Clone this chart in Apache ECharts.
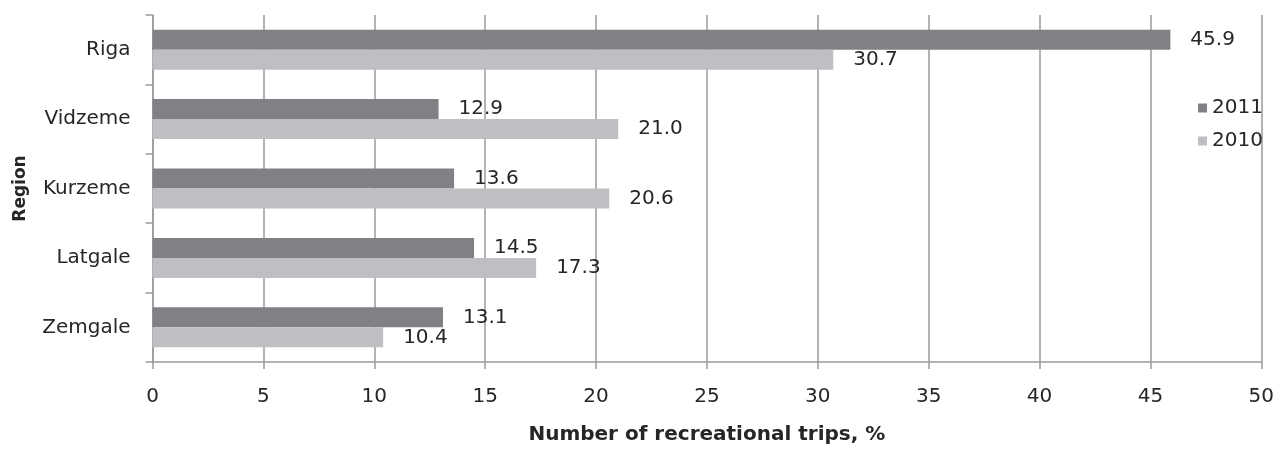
<!DOCTYPE html>
<html>
<head>
<meta charset="utf-8">
<script src="https://cdn.jsdelivr.net/npm/echarts@6/dist/echarts.min.js"></script>
<style>
  html, body { margin: 0; padding: 0; background: #fff; }
  #chart { width: 1277px; height: 450px; }
</style>
</head>
<body>
<div id="chart"></div>
<script>
// Share of recreational trips by region, 2011 vs 2010
const regions = ['Riga', 'Vidzeme', 'Kurzeme', 'Latgale', 'Zemgale'];
const trips2011 = [45.9, 12.9, 13.6, 14.5, 13.1];
const trips2010 = [30.7, 21.0, 20.6, 17.3, 10.4];
const seriesNames = ['2011', '2010'];

const FONT = 'DejaVu Sans';
const gridColor = '#9a9a9a';
const textColor = '#262626';

const valueLabel = {
  show: true,
  position: 'right',
  distance: 20,
  color: textColor,
  fontFamily: FONT,
  fontSize: 20,
  formatter: p => p.value.toFixed(1)
};

const chart = echarts.init(document.getElementById('chart'), null, { renderer: 'canvas' });
chart.setOption({
  animation: false,
  backgroundColor: '#ffffff',
  textStyle: { fontFamily: FONT },
  grid: { left: 152.5, right: 14, top: 15, bottom: 86, containLabel: false },
  legend: {
    orient: 'vertical',
    left: 1193,
    top: 93,
    itemWidth: 9,
    itemHeight: 9,
    itemGap: 13,
    icon: 'rect',
    textStyle: { fontFamily: FONT, fontSize: 20, color: textColor },
    data: seriesNames
  },
  xAxis: {
    type: 'value',
    min: 0,
    max: 50,
    interval: 5,
    name: 'Number of recreational trips, %',
    nameLocation: 'middle',
    nameGap: 63,
    nameTextStyle: { fontFamily: FONT, fontSize: 20, fontWeight: 'bold', color: textColor },
    axisLine: { show: true, lineStyle: { color: gridColor, width: 1.5 } },
    axisTick: { show: true, length: 7, lineStyle: { color: gridColor, width: 1.5 } },
    axisLabel: { margin: 25, fontFamily: FONT, fontSize: 20, color: textColor },
    splitLine: { show: true, lineStyle: { color: gridColor, width: 1.5 } }
  },
  yAxis: {
    type: 'category',
    inverse: true,
    data: regions,
    name: 'Region',
    nameLocation: 'middle',
    nameGap: 123,
    nameRotate: 90,
    nameTextStyle: { fontFamily: FONT, fontSize: 17, fontWeight: 'bold', color: textColor },
    axisLine: { show: true, lineStyle: { color: gridColor, width: 1.5 } },
    axisTick: { show: true, length: 7, alignWithLabel: false, lineStyle: { color: gridColor, width: 1.5 } },
    axisLabel: { margin: 22, fontFamily: FONT, fontSize: 20, color: textColor },
    splitLine: { show: false }
  },
  series: [
    {
      name: seriesNames[0],
      type: 'bar',
      data: trips2011,
      barWidth: 20,
      barGap: '0%',
      itemStyle: { color: '#818185' },
      label: valueLabel
    },
    {
      name: seriesNames[1],
      type: 'bar',
      data: trips2010,
      barWidth: 20,
      barGap: '0%',
      itemStyle: { color: '#bfbfc3' },
      label: valueLabel
    }
  ]
});
</script>
</body>
</html>
